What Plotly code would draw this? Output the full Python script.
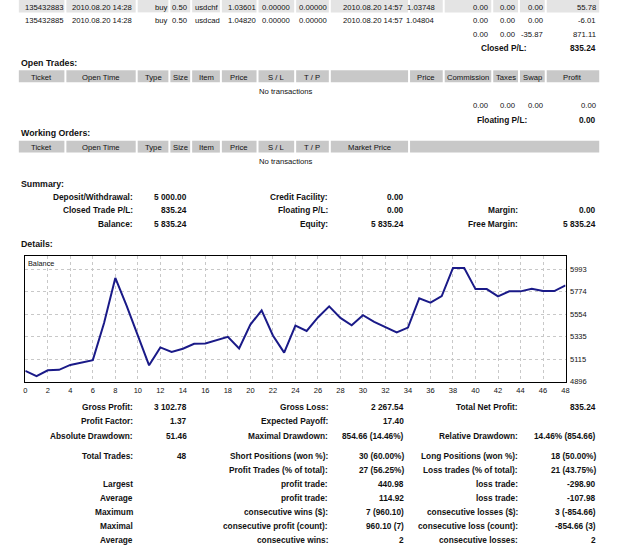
import plotly.graph_objects as go

W, H = 625, 550
FONT = "Liberation Sans"

# ---------------- data ----------------
trade_index = list(range(49))
balance = [5000.00, 4948.54, 5006, 5010, 5058, 5080, 5105, 5468, 5908.64,
           5638, 5339, 5053.98, 5229, 5184, 5216, 5265, 5268, 5304, 5333,
           5219, 5452, 5592, 5346, 5178, 5443, 5390, 5522, 5631, 5517,
           5446, 5544, 5479, 5430, 5375, 5423, 5709, 5666, 5731, 6006,
           6006, 5799, 5799, 5728, 5777, 5777, 5802, 5780, 5780, 5835.24]
y_ticks = [4896, 5115, 5335, 5554, 5774, 5993]
x_ticks = list(range(0, 49, 2))

header_labels = ["Ticket", "Open Time", "Type", "Size", "Item", "Price", "S / L", "T / P",
                 "", "Price", "Commission", "Taxes", "Swap", "Profit"]
order_header_labels = ["Ticket", "Open Time", "Type", "Size", "Item", "Price", "S / L", "T / P",
                       "Market Price"]
closed_row1 = ["135432883", "2010.08.20 14:28", "buy", "0.50", "usdchf", "1.03601", "0.00000",
               "0.00000", "2010.08.20 14:57", "1.03748", "0.00", "0.00", "0.00", "55.78"]
closed_row2 = ["135432885", "2010.08.20 14:28", "buy", "0.50", "usdcad", "1.04820", "0.00000",
               "0.00000", "2010.08.20 14:57", "1.04804", "0.00", "0.00", "0.00", "-6.01"]
closed_totals = ["0.00", "0.00", "-35.87", "871.11"]
closed_pl = ["Closed P/L:", "835.24"]
open_totals = ["0.00", "0.00", "0.00", "0.00"]
floating_pl = ["Floating P/L:", "0.00"]
section_titles = ["Open Trades:", "Working Orders:", "Summary:", "Details:"]
no_tx = "No transactions"

summary_rows = [
    ["Deposit/Withdrawal:", "5 000.00", "Credit Facility:", "0.00", "", ""],
    ["Closed Trade P/L:", "835.24", "Floating P/L:", "0.00", "Margin:", "0.00"],
    ["Balance:", "5 835.24", "Equity:", "5 835.24", "Free Margin:", "5 835.24"],
]
stats_rows = [
    ["Gross Profit:", "3 102.78", "Gross Loss:", "2 267.54", "Total Net Profit:", "835.24"],
    ["Profit Factor:", "1.37", "Expected Payoff:", "17.40", "", ""],
    ["Absolute Drawdown:", "51.46", "Maximal Drawdown:", "854.66 (14.46%)", "Relative Drawdown:", "14.46% (854.66)"],
    ["Total Trades:", "48", "Short Positions (won %):", "30 (60.00%)", "Long Positions (won %):", "18 (50.00%)"],
    ["", "", "Profit Trades (% of total):", "27 (56.25%)", "Loss trades (% of total):", "21 (43.75%)"],
    ["Largest", "", "profit trade:", "440.98", "loss trade:", "-298.90"],
    ["Average", "", "profit trade:", "114.92", "loss trade:", "-107.98"],
    ["Maximum", "", "consecutive wins ($):", "7 (960.10)", "consecutive losses ($):", "3 (-854.66)"],
    ["Maximal", "", "consecutive profit (count):", "960.10 (7)", "consecutive loss (count):", "-854.66 (3)"],
    ["Average", "", "consecutive wins:", "2", "consecutive losses:", "2"],
]

# ---------------- layout helpers ----------------
def px(x):
    return x / W

def py(y):
    return 1 - y / H

annotations = []
shapes = []
NORMAL = 7.7
BOLD = 8.3

def text(t, x, y, anchor="left", bold=False, size=None):
    if t == "":
        return
    if size is None:
        size = BOLD if bold else NORMAL
    annotations.append(dict(
        text=f"<b>{t}</b>" if bold else t, x=px(x), y=py(y + 1.2), xref="paper", yref="paper",
        xanchor=anchor, yanchor="middle", showarrow=False, borderpad=0,
        font=dict(family=FONT, size=size, color="#111111")))

def rect(x0, y0, x1, y1, color):
    shapes.append(dict(type="rect", xref="paper", yref="paper", x0=px(x0), x1=px(x1),
                       y0=py(y1), y1=py(y0), fillcolor=color, line=dict(width=0), layer="below"))

cells = [(17, 63), (65, 135), (137, 168), (170, 190), (192, 220), (222, 257), (259, 295),
         (297, 330), (332, 410), (412, 445), (447, 494), (496, 521), (523, 548), (550, 603)]

# closed trades rows
for (x0, x1) in cells:
    rect(x0, 0, x1, 12.5, "#e4e4e4")
row_x = [42, 101, 161, 179, 207, 242, 277, 314, 375, 423]
num_right = [492, 519, 547, 601]
for row, yy in ((closed_row1, 6), (closed_row2, 19.5)):
    for i, v in enumerate(row[:10]):
        text(v, row_x[i], yy, "center")
    for i, v in enumerate(row[10:]):
        text(v, num_right[i], yy, "right")
for i, v in enumerate(closed_totals):
    text(v, num_right[i], 33.5, "right")
text(closed_pl[0], 531, 47.5, "right", bold=True)
text(closed_pl[1], 601, 47.5, "right", bold=True)

# open trades
TITLE = 8.8
text(section_titles[0], 18, 62, bold=True, size=TITLE)
for (x0, x1), lab in zip(cells, header_labels):
    rect(x0, 71, x1, 83, "#c8c8c8")
    text(lab, (x0 + x1) / 2, 77, "center")
text(no_tx, 287, 91, "center")
for i, v in enumerate(open_totals):
    text(v, num_right[i], 105.5, "right")
text(floating_pl[0], 531, 119.5, "right", bold=True)
text(floating_pl[1], 601, 119.5, "right", bold=True)

# working orders
text(section_titles[1], 18, 133, bold=True, size=TITLE)
order_cells = cells[:9] + [(412, 603)]
for i, (x0, x1) in enumerate(order_cells):
    rect(x0, 142, x1, 154, "#c8c8c8")
    if i < len(order_header_labels):
        text(order_header_labels[i], (x0 + x1) / 2, 148, "center")
text(no_tx, 287, 162, "center")

# summary
text(section_titles[2], 18, 184, bold=True, size=TITLE)
col_right = [133, 188, 330, 407, 522, 601]
for r, yy in zip(summary_rows, [197.5, 211, 224.5]):
    for c, v in enumerate(r):
        text(v, col_right[c], yy, "right", bold=True)

# details
text(section_titles[3], 18, 245.5, bold=True, size=TITLE)
stats_y = [410, 424, 438.5, 459, 473.5, 487.5, 501.5, 515.5, 530, 544]
for r, yy in zip(stats_rows, stats_y):
    for c, v in enumerate(r):
        text(v, col_right[c], yy, "right", bold=True)

# chart label
text("Balance", 25.5, 264.5, "left", size=7.3)

# ---------------- chart ----------------
fig = go.Figure()
fig.add_trace(go.Scatter(x=trade_index, y=balance, mode="lines",
                         line=dict(color="#1a1a88", width=2), hoverinfo="skip"))

axis_font = dict(family=FONT, size=7.5, color="#111111")
fig.update_layout(
    width=W, height=H, margin=dict(l=0, r=0, t=0, b=0),
    paper_bgcolor="white", plot_bgcolor="white", showlegend=False,
    annotations=annotations, shapes=shapes,
    xaxis=dict(domain=[px(23.5), px(569)], range=[0, 48], tickvals=x_ticks,
               showgrid=True, gridcolor="#c8c8c8", griddash="dot", gridwidth=1,
               showline=True, linecolor="black", linewidth=1, mirror=True,
               ticks="", ticklabelstandoff=1, zeroline=False,
               tickfont=axis_font, anchor="y"),
    yaxis=dict(domain=[py(385), py(258)], range=[4896, 6126], tickvals=y_ticks,
               side="right", showgrid=True, gridcolor="#c8c8c8", griddash="dot", gridwidth=1,
               showline=True, linecolor="black", linewidth=1, mirror=True,
               ticks="", ticklabelstandoff=2, zeroline=False,
               tickfont=axis_font, anchor="x"),
)

fig.write_html("out.html")
